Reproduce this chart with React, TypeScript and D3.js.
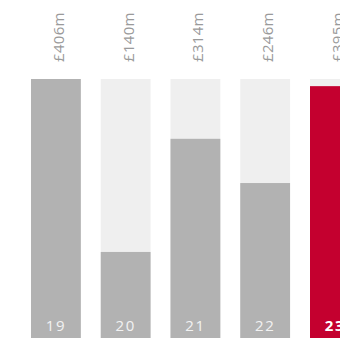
import React from "react";
import * as d3 from "d3";

const categories = ["19", "20", "21", "22", "23"];
const values = [406, 140, 314, 246, 395];
const valueLabels = ["£406m", "£140m", "£314m", "£246m", "£395m"];
const highlight = ["23"];

const W = 340;
const H = 338;

export default function App() {
  const step = 69.75;
  const start = 31 - step / 7;
  const x = d3
    .scaleBand<string>()
    .domain(categories)
    .range([start, start + step * categories.length])
    .paddingInner(2 / 7)
    .paddingOuter(1 / 7);
  const y = d3.scaleLinear().domain([0, d3.max(values) as number]).range([343, 79]);
  const bw = x.bandwidth();
  const font = "'Open Sans', 'Noto Sans', sans-serif";

  return (
    <svg
      width={W}
      height={H}
      style={{ position: "absolute", left: 0, top: 0, background: "#fff" }}
    >
      {categories.map((c, i) => {
        const x0 = x(c) as number;
        const cx = x0 + bw / 2;
        const hi = highlight.includes(c);
        return (
          <g key={c}>
            <rect x={x0} y={y.range()[1]} width={bw} height={y(0) - y.range()[1]} fill="#efefef" />
            <rect
              x={x0}
              y={y(values[i])}
              width={bw}
              height={y(0) - y(values[i])}
              fill={hi ? "#c4002f" : "#b2b2b2"}
            />
            <text
              transform={`translate(${cx + 8},62) rotate(-90)`}
              fontFamily={font}
              fontSize={15}
              letterSpacing={0.3}
              fill="#9a9a9a"
              textAnchor="start"
            >
              {valueLabels[i]}
            </text>
            <text
              x={cx}
              y={331}
              fontFamily={font}
              fontSize={15}
              letterSpacing={1.5}
              fontWeight={hi ? 700 : 400}
              fill={hi ? "#fff" : "#f2f2f2"}
              textAnchor="middle"
            >
              {c}
            </text>
          </g>
        );
      })}
    </svg>
  );
}
